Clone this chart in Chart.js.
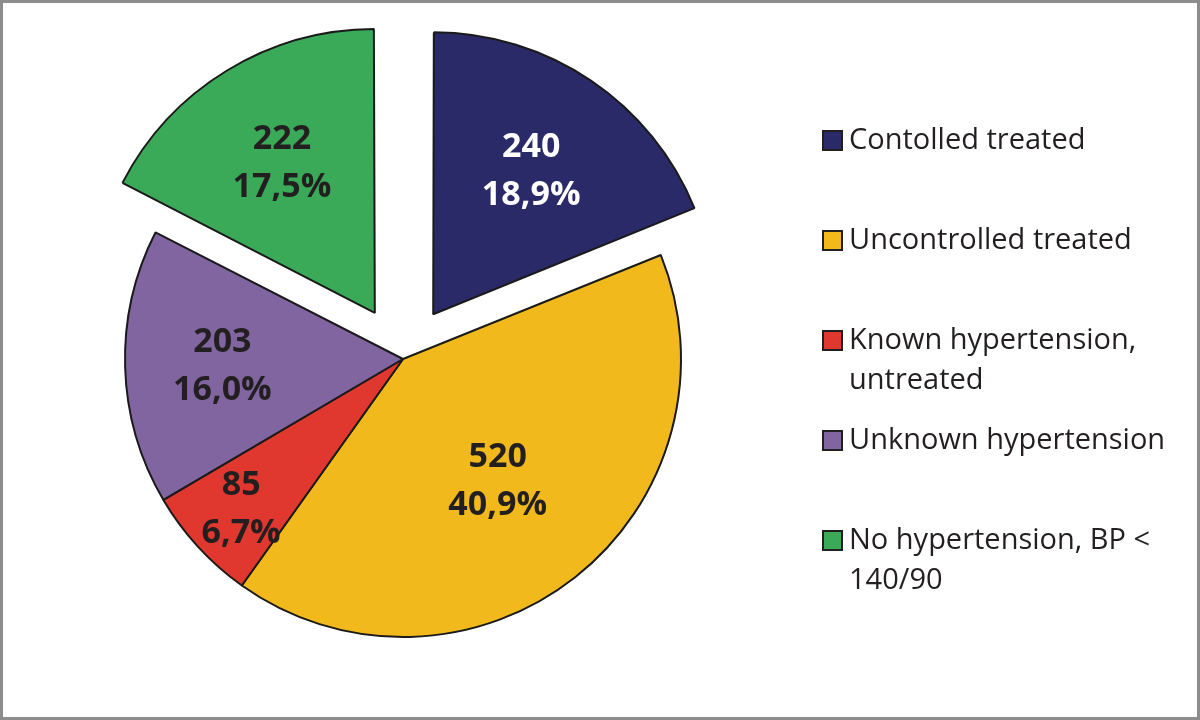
<!DOCTYPE html>
<html>
<head>
<meta charset="utf-8">
<script src="https://cdn.jsdelivr.net/npm/chart.js@4"></script>
<style>
  body { margin: 0; background: #fff; }
  #frame { position: relative; width: 1200px; height: 720px; box-sizing: border-box; border: 3px solid #8c8c8c; background: #fff; overflow: hidden; }
  #chart_pie { position: absolute; left: -3px; top: -3px; }
  #legend { position: absolute; left: 819px; top: 0; font-family: "Open Sans", sans-serif; font-size: 29px; color: #231f20; }
  .item { position: absolute; left: 0; white-space: nowrap; line-height: 40px; }
  .box { position: absolute; left: 0; top: 12px; width: 17px; height: 17px; border: 2px solid #231f20; }
  .txt { position: absolute; left: 27px; top: 0px; }
</style>
</head>
<body>
<div id="frame">
  <canvas id="chart_pie" width="1200" height="720"></canvas>
  <div id="legend"></div>
</div>
<script>
// данные по группам
const categories = ['Contolled treated', 'Uncontrolled treated', ['Known hypertension,', 'untreated'], 'Unknown hypertension', ['No hypertension, BP <', '140/90']];
const counts = [240, 520, 85, 203, 222];
const colors = ['#2b2a69', '#f1b91b', '#e0382f', '#8065a1', '#3aaa59'];
const explode = [216, 0, 0, 0, 216];
const labelDist = [0.63, 0.55, 0.79, 0.65, 0.64];
const labelColors = ['#ffffff', '#231f20', '#231f20', '#231f20', '#231f20'];

const total = counts.reduce((a, b) => a + b, 0);

function pct(v) {
    return (v / total * 100).toFixed(1).replace('.', ',') + '%';
}

// подписи внутри секторов
const sliceLabels = {
    id: 'sliceLabels',
    afterDatasetsDraw(chart) {
        const ctx = chart.ctx;
        const meta = chart.getDatasetMeta(0);
        meta.data.forEach((arc, i) => {
            const mid = (arc.startAngle + arc.endAngle) / 2;
            const shift = (explode[i] || 0) / 4;
            const r = shift + arc.outerRadius * labelDist[i];
            const x = arc.x + Math.cos(mid) * r;
            const y = arc.y + Math.sin(mid) * r;
            ctx.save();
            ctx.fillStyle = labelColors[i];
            ctx.font = 'bold 34px "Open Sans"';
            ctx.textAlign = 'center';
            ctx.textBaseline = 'middle';
            ctx.fillText(String(counts[i]), x, y - 22);
            ctx.fillText(pct(counts[i]), x, y + 26);
            ctx.restore();
        });
    }
};

const ctx = document.getElementById('chart_pie').getContext('2d');
const chart = new Chart(ctx, {
    type: 'pie',
    data: {
        labels: categories,
        datasets: [{
            data: counts,
            backgroundColor: colors,
            borderColor: '#1a1a1a',
            borderWidth: 2,
            offset: explode,
            hoverOffset: 0
        }]
    },
    options: {
        responsive: false,
        animation: false,
        radius: 278,
        layout: { padding: { left: 0, right: 394, top: 0, bottom: 2 } },
        plugins: {
            legend: { display: false },
            tooltip: { enabled: false }
        }
    },
    plugins: [sliceLabels]
});

// легенда справа
const legend = document.getElementById('legend');
categories.forEach((cat, i) => {
    const item = document.createElement('div');
    item.className = 'item';
    item.style.top = (115 + i * 100) + 'px';
    const box = document.createElement('div');
    box.className = 'box';
    box.style.background = colors[i];
    const txt = document.createElement('div');
    txt.className = 'txt';
    txt.innerHTML = [].concat(cat).join('<br>');
    item.appendChild(box);
    item.appendChild(txt);
    legend.appendChild(item);
});
</script>
</body>
</html>
